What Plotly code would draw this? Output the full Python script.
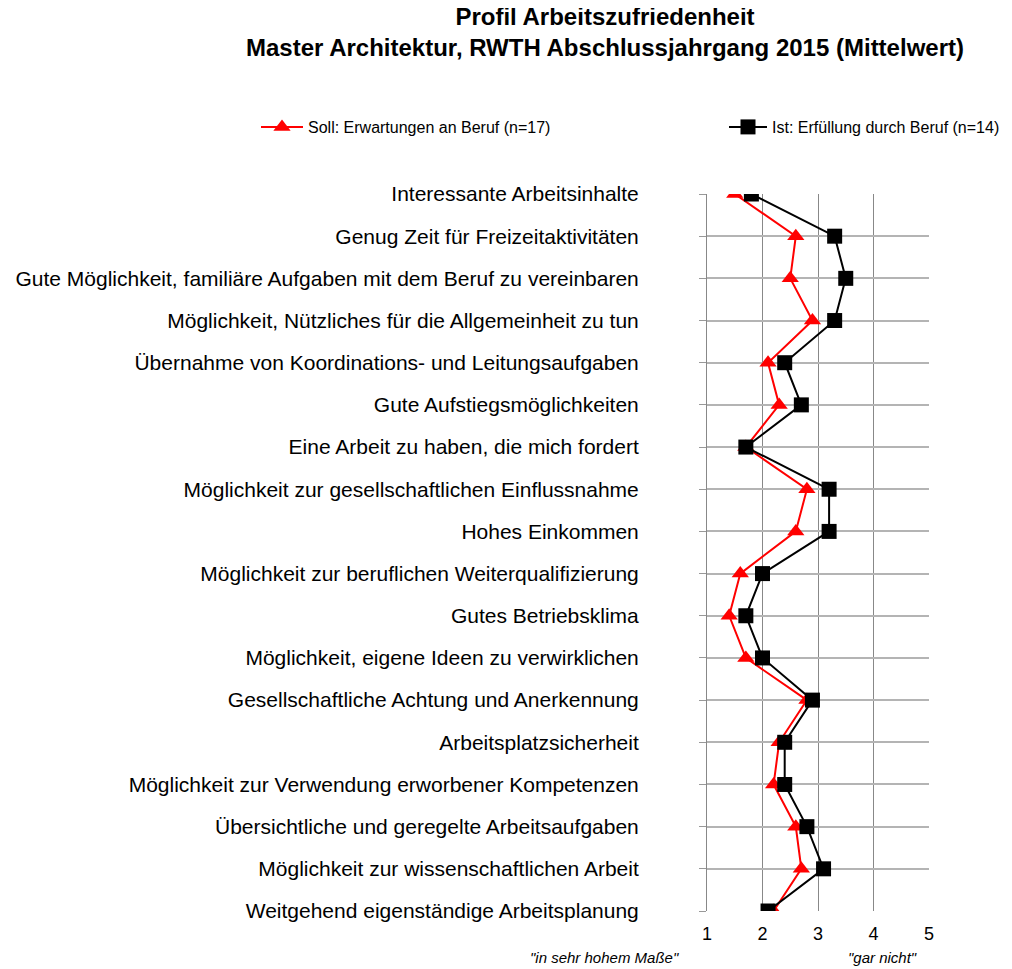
import plotly.graph_objects as go

kategorien = [
    "Interessante Arbeitsinhalte",
    "Genug Zeit für Freizeitaktivitäten",
    "Gute Möglichkeit, familiäre Aufgaben mit dem Beruf zu vereinbaren",
    "Möglichkeit, Nützliches für die Allgemeinheit zu tun",
    "Übernahme von Koordinations- und Leitungsaufgaben",
    "Gute Aufstiegsmöglichkeiten",
    "Eine Arbeit zu haben, die mich fordert",
    "Möglichkeit zur gesellschaftlichen Einflussnahme",
    "Hohes Einkommen",
    "Möglichkeit zur beruflichen Weiterqualifizierung",
    "Gutes Betriebsklima",
    "Möglichkeit, eigene Ideen zu verwirklichen",
    "Gesellschaftliche Achtung und Anerkennung",
    "Arbeitsplatzsicherheit",
    "Möglichkeit zur Verwendung erworbener Kompetenzen",
    "Übersichtliche und geregelte Arbeitsaufgaben",
    "Möglichkeit zur wissenschaftlichen Arbeit",
    "Weitgehend eigenständige Arbeitsplanung",
]
soll = [1.5, 2.6, 2.5, 2.9, 2.1, 2.3, 1.7, 2.8, 2.6, 1.6, 1.4, 1.7, 2.8, 2.3, 2.2, 2.6, 2.7, 2.2]
ist = [1.8, 3.3, 3.5, 3.3, 2.4, 2.7, 1.7, 3.2, 3.2, 2.0, 1.7, 2.0, 2.9, 2.4, 2.4, 2.8, 3.1, 2.1]
x_ticks = [1, 2, 3, 4, 5]

pos = list(range(len(kategorien)))
schrift = "Liberation Sans, Arial, sans-serif"

fig = go.Figure()
fig.add_trace(go.Scatter(
    x=soll, y=pos, mode="lines+markers",
    name="Soll: Erwartungen an Beruf (n=17)",
    line=dict(color="#ff0000", width=2),
    marker=dict(symbol="triangle-up", size=15, color="#ff0000"),
    legend="legend",
))
fig.add_trace(go.Scatter(
    x=ist, y=pos, mode="lines+markers",
    name="Ist: Erfüllung durch Beruf (n=14)",
    line=dict(color="#000000", width=2),
    marker=dict(symbol="square", size=15, color="#000000"),
    legend="legend2",
))

leg = dict(orientation="h", xanchor="left", xref="container",
           y=1 - 119 / 961, yanchor="middle", yref="container",
           font=dict(size=16, family=schrift), bgcolor="rgba(0,0,0,0)")

# seite hat 8px rand, daher 1004x961
fig.update_layout(
    width=1004, height=961,
    margin=dict(l=699, r=83, t=186, b=58, autoexpand=False),
    paper_bgcolor="white", plot_bgcolor="white",
    font=dict(family=schrift, color="black"),
    showlegend=True,
    title=dict(
        text="<b>Profil Arbeitszufriedenheit<br>Master Architektur, RWTH Abschlussjahrgang 2015 (Mittelwert)</b>",
        x=597 / 1004, xanchor="center", xref="container",
        y=1 - 17 / 961, yanchor="top", yref="container",
        font=dict(size=24, family=schrift),
    ),
    legend=dict(leg, x=248 / 1004, itemwidth=42),
    legend2=dict(leg, x=716 / 1004, itemwidth=38),
    xaxis=dict(
        range=[1, 5], tickvals=x_ticks, showgrid=True, gridcolor="#888888", gridwidth=1,
        zeroline=False, showline=False, tickfont=dict(size=18), ticks="",
        ticklabelstandoff=10, automargin=False,
    ),
    yaxis=dict(
        range=[len(kategorien) - 1, 0], tickvals=pos, ticktext=kategorien,
        showgrid=True, gridcolor="#b4b4b4", gridwidth=2, zeroline=False,
        showline=True, linecolor="#888888", linewidth=1,
        ticks="outside", ticklen=7, tickcolor="#999999",
        tickfont=dict(size=21), ticklabelstandoff=56, automargin=False,
    ),
    annotations=[
        dict(text='<i>"in sehr hohem Maße"</i>', x=-0.46, y=0, xref="paper", yref="paper",
             xanchor="center", yshift=-57, showarrow=False, font=dict(size=15)),
        dict(text='<i>"gar nicht"</i>', x=0.79, y=0, xref="paper", yref="paper",
             xanchor="center", yshift=-57, showarrow=False, font=dict(size=15)),
    ],
)

fig.write_html("out.html")
